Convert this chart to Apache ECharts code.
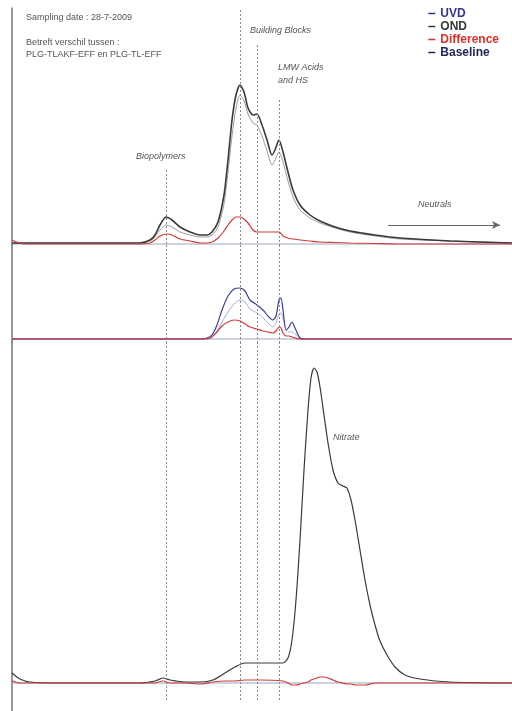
<!DOCTYPE html>
<html>
<head>
<meta charset="utf-8">
<script src="https://cdn.jsdelivr.net/npm/echarts@6/dist/echarts.min.js"></script>
<style>
  html, body { margin: 0; padding: 0; background: #fff; }
  #chart { width: 512px; height: 711px; }
</style>
</head>
<body>
<div id="chart"></div>
<script>
// Retention time axis (minutes) shared by all three detector traces
const timeMin = 0;
const timeMax = 125;

// Top panel: carbon signal, two effluents and their difference
const topTime = [0, 3, 32, 34.5, 35.75, 37, 38.5, 40, 42, 44.5, 47, 48.75, 50, 51.5, 53, 54, 55, 56, 57, 58, 59, 60.25, 61.25, 62.5, 63.75, 65, 65.75, 66.75, 67.75, 69, 70.25, 72, 74.5, 77, 80.75, 84.5, 90.75, 97, 109.5, 125];
const topSampleA = [1, 1, 1, 4, 9, 19, 27, 24, 17, 12, 9, 9, 12, 22, 49, 84, 124, 149, 159, 152, 136, 129, 130, 119, 104, 89, 94, 104, 92, 72, 54, 39, 29, 23, 17, 13, 9, 6, 3, 1];
const topSampleB = [1, 1, 1, 3, 7, 14, 19, 17, 12, 9, 7, 7, 9, 17, 40, 72, 108, 136, 149, 143, 130, 121, 119, 108, 93, 79, 84, 92, 82, 63, 47, 34, 26, 21, 16, 12, 8, 5, 3, 1];
const topDifference = [4, 0, 0, 1, 4, 8, 10, 9, 5, 3, 1, 1, 2, 6, 13, 19, 24, 27, 27, 25, 21, 14, 12, 12, 12, 12, 12, 12, 8, 6, 5, 4, 3, 2, 1.5, 1, 0.5, 0, 0, 0];

// Middle panel: UV absorbance, two effluents and their difference
const midTime = [0, 47, 48.75, 50, 51.25, 52.5, 54, 55.5, 57, 58.25, 59.5, 61.25, 62.75, 64, 65.25, 66, 66.75, 67.25, 67.75, 68.5, 69.25, 70, 70.75, 72, 73.25, 125];
const midUvdA = [0, 0, 1, 4, 14, 29, 43, 50, 51, 48, 39, 34, 29, 23, 19, 23, 39, 41, 29, 9, 12, 17, 11, 1, 0, 0];
const midUvdB = [0, 0, 0, 3, 8, 17, 27, 35, 39, 37, 30, 26, 21, 16, 12, 16, 25, 26, 21, 9, 7, 7, 5, 1, 0, 0];
const midDifference = [0, 0, 0, 2, 7, 13, 17, 19, 18, 15, 12, 10, 8, 7, 6, 8, 12, 11, 6, 3, 3, 2, 1, 0, 0, 0];

// Bottom panel: nitrogen signal with the nitrate peak
const botTime = [0, 2, 4.5, 12, 32, 35.75, 37.75, 39.5, 43.25, 47, 50.25, 53.25, 55.75, 58.25, 62, 67.75, 69, 70, 71, 72, 73, 74, 74.75, 75.5, 76.25, 77, 78, 79, 80.25, 81.5, 82.75, 83.75, 84.75, 85.75, 87, 88.25, 89.5, 90.75, 92, 93.75, 95.75, 98.25, 102, 109.5, 125];
const botOnd = [10, 4, 1, 0, 0, 2, 5, 3, 1, 1, 3, 10, 16, 20, 20, 20, 25, 43, 83, 143, 213, 273, 305, 315, 311, 296, 268, 240, 213, 200, 197, 195, 183, 163, 133, 103, 78, 58, 42, 28, 16, 8, 4, 1, 0];
const botDifference = [2, 0, 0, 0, 0, 0, 2, 0, 0, -1, 1, 2, 2, 3, 3, 2, 0, -2, -2, -1, 0, 1, 3, 4, 5, 6, 6, 5, 3, 1, 0, -1, -1, -2, -2, -2, -1, 0, 0, 0, 0, 0, 0, 0, 0];

// Fraction boundaries (retention time) and where each dotted marker starts in the top panel
const fractionTimes = [38.5, 57, 61.25, 66.75];
const fractionTopStart = [74, 234, 199, 144];

// Legend entries
const legendNames = ['UVD', 'OND', 'Difference', 'Baseline'];
const legendColors = ['#34358a', '#2f3d33', '#d8332e', '#1f2556'];

const panelRanges = [[-1, 236], [-3, 94], [-28, 341]];

const C = {
  ond: '#3a3a3a', ondLight: '#9a9a9a',
  uvd: '#3a3f95', uvdLight: '#a7abd6',
  diff: '#d23b3b', base: '#9aa6c2', marker: '#8a8a8a'
};

function zip(t, v) { return t.map((x, i) => [x, v[i]]); }

function trace(grid, name, t, v, color, width, z) {
  return {
    type: 'line', name: name, xAxisIndex: grid, yAxisIndex: grid,
    data: zip(t, v), symbol: 'none', smooth: 0.25, z: z || 2,
    lineStyle: { color: color, width: width }, itemStyle: { color: color },
    silent: true
  };
}

function fractionMarks(grid) {
  const top = panelRanges[grid][1];
  const bottom = grid === 2 ? -17 : panelRanges[grid][0];
  return fractionTimes.map((t, i) => [
    { coord: [t, grid === 0 ? fractionTopStart[i] : top] },
    { coord: [t, bottom] }
  ]);
}

function baseline(grid) {
  const s = trace(grid, 'Baseline', [timeMin, timeMax], [0, 0], C.base, 1, 1);
  s.markLine = {
    silent: true, symbol: 'none', label: { show: false },
    lineStyle: { color: C.marker, type: [2, 2], width: 1 },
    data: fractionMarks(grid)
  };
  return s;
}

const topBase = baseline(0);
// arrow pointing toward the late-eluting neutrals
topBase.markLine.data.push([
  { coord: [94, 19], symbol: 'none', lineStyle: { type: 'solid', color: '#666', width: 1 } },
  { coord: [122, 19], symbol: 'arrow', symbolSize: [6, 8], lineStyle: { type: 'solid', color: '#666', width: 1 } }
]);

const FONT = '"Liberation Sans", Arial, sans-serif';
const txt = (text, left, top, italic) => ({
  type: 'text', left: left, top: top, silent: true,
  style: { text: text, fill: '#555', font: (italic ? 'italic ' : '') + '9px ' + FONT }
});

const option = {
  animation: false,
  backgroundColor: '#fff',
  grid: [
    { left: 12, right: 0, top: 8, height: 237 },
    { left: 12, right: 0, top: 245, height: 97 },
    { left: 12, right: 0, top: 342, height: 369 }
  ],
  xAxis: [0, 1, 2].map(i => ({ type: 'value', gridIndex: i, min: timeMin, max: timeMax, show: false })),
  yAxis: panelRanges.map((r, i) => ({
    type: 'value', gridIndex: i, min: r[0], max: r[1],
    axisLine: { show: true, onZero: false, lineStyle: { color: '#777', width: 1.5 } },
    axisTick: { show: false }, axisLabel: { show: false }, splitLine: { show: false }
  })),
  legend: {
    orient: 'vertical', right: 8, top: 2, itemGap: 0,
    icon: 'rect', itemWidth: 7, itemHeight: 1.5,
    textStyle: { fontSize: 12, lineHeight: 13, fontWeight: 'bold', fontFamily: FONT },
    selectedMode: false,
    data: legendNames.map((n, i) => ({
      name: n, itemStyle: { color: legendColors[i] },
      textStyle: { color: legendColors[i] }
    }))
  },
  series: [
    topBase,
    trace(0, 'OND', topTime, topSampleB, C.ondLight, 1, 3),
    trace(0, 'OND', topTime, topSampleA, C.ond, 1.6, 4),
    trace(0, 'Difference', topTime, topDifference, C.diff, 1.2, 5),

    baseline(1),
    trace(1, 'UVD', midTime, midUvdB, C.uvdLight, 1, 3),
    trace(1, 'UVD', midTime, midUvdA, C.uvd, 1.2, 4),
    trace(1, 'Difference', midTime, midDifference, C.diff, 1.2, 5),

    baseline(2),
    trace(2, 'OND', botTime, botOnd, C.ond, 1.2, 4),
    trace(2, 'Difference', botTime, botDifference, C.diff, 1.2, 5)
  ],
  graphic: [
    txt('Sampling date : 28-7-2009', 26, 13),
    txt('Betreft verschil tussen :', 26, 38),
    txt('PLG-TLAKF-EFF en PLG-TL-EFF', 26, 50),
    txt('Building Blocks', 250, 26, true),
    txt('LMW Acids', 278, 63, true),
    txt('and HS', 278, 76, true),
    txt('Biopolymers', 136, 152, true),
    txt('Neutrals', 418, 200, true),
    txt('Nitrate', 333, 433, true)
  ]
};

const chart = echarts.init(document.getElementById('chart'), null, { renderer: 'canvas' });
chart.setOption(option);
</script>
</body>
</html>
